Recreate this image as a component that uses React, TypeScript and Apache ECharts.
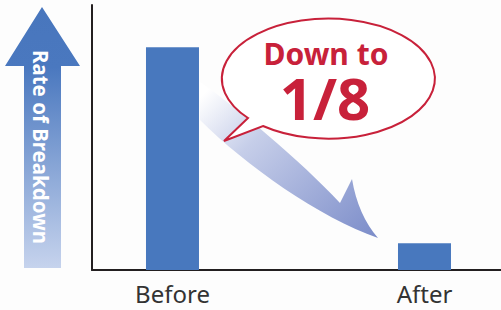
import React, { useEffect, useRef } from "react";
import * as echarts from "echarts";

const categories = ["Before", "After"];
const values = [100, 12];
const calloutLine1 = "Down to";
const calloutLine2 = "1/8";
const yAxisTitle = "Rate of Breakdown";

const BAR_COLOR = "#4878be";
const RED = "#c8213a";
const AXIS_COLOR = "#231f20";

const CURVE_ARROW_D =
  "M200 82 C235 106 300 160 340 203 L352 179 Q358 215 378 238 C320 218 245 165 200 120 Z";
const BUBBLE_D =
  "M248 118 L224 141 L263 126 A106.5 60 0 1 0 248 118 Z";

let registered = false;
function registerShapes() {
  if (registered) return;
  echarts.graphic.registerShape("curveArrow", echarts.graphic.extendPath(CURVE_ARROW_D, {}));
  echarts.graphic.registerShape("bubble", echarts.graphic.extendPath(BUBBLE_D, {}));
  registered = true;
}

export default function App() {
  const ref = useRef<HTMLDivElement>(null);
  useEffect(() => {
    document.body.style.margin = "0";
    registerShapes();
    const chart = echarts.init(ref.current!, null, { renderer: "svg" });
    const option: any = {
      animation: false,
      backgroundColor: "#fdfdfd",
      grid: { left: 92, right: 0, top: 5, bottom: 40 },
      xAxis: {
        type: "value",
        min: -0.3194,
        max: 1.3036,
        splitLine: { show: false },
        axisTick: { show: false },
        axisLine: { show: true, onZero: false, lineStyle: { color: AXIS_COLOR, width: 2 } },
        axisLabel: {
          customValues: [0, 1],
          formatter: (v: number) => categories[Math.round(v)] ?? "",
          color: "#333333",
          fontSize: 24,
          fontFamily: "Noto Sans",
          margin: 11,
        },
      },
      yAxis: {
        type: "value",
        min: 0,
        max: 119,
        splitLine: { show: false },
        axisTick: { show: false },
        axisLabel: { show: false },
        axisLine: { show: true, onZero: false, lineStyle: { color: AXIS_COLOR, width: 2 } },
      },
      series: [
        {
          type: "bar",
          barWidth: 53,
          itemStyle: { color: BAR_COLOR },
          data: values.map((v, i) => [i, v]),
        },
      ],
      graphic: [
        {
          type: "polygon",
          z: 10,
          shape: {
            points: [
              [42, 7],
              [80, 66],
              [61, 66],
              [61, 268],
              [24, 268],
              [24, 66],
              [5, 66],
            ],
          },
          style: {
            fill: {
              type: "linear",
              x: 0,
              y: 0,
              x2: 0,
              y2: 1,
              colorStops: [
                { offset: 0, color: "#4876bd" },
                { offset: 0.23, color: "#4a78bf" },
                { offset: 1, color: "#c6d3ed" },
              ],
            },
          },
        },
        {
          type: "text",
          z: 11,
          x: 41,
          y: 147,
          rotation: -Math.PI / 2,
          style: {
            text: yAxisTitle,
            fill: "#ffffff",
            fontSize: 20.5,
            fontWeight: "bold",
            fontFamily: "Noto Sans",
            textAlign: "center",
            align: "center",
            textVerticalAlign: "middle",
            verticalAlign: "middle",
          },
        },
        {
          type: "curveArrow",
          z: 10,
          x: 0,
          y: 0,
          style: {
            fill: {
              type: "linear",
              x: 0,
              y: 0.1,
              x2: 1,
              y2: 1,
              colorStops: [
                { offset: 0, color: "#ffffff" },
                { offset: 0.3, color: "#c6cee9" },
                { offset: 1, color: "#7b8cc9" },
              ],
            },
          },
        },
        {
          type: "bubble",
          z: 12,
          x: 0,
          y: 0,
          style: { fill: "#ffffff", stroke: RED, lineWidth: 2 },
        },
        {
          type: "text",
          z: 13,
          x: 326,
          y: 53,
          style: {
            text: calloutLine1,
            fill: RED,
            fontSize: 30,
            lineHeight: 26,
            fontWeight: "bold",
            fontFamily: "Noto Sans",
            textAlign: "center",
            align: "center",
            textVerticalAlign: "middle",
            verticalAlign: "middle",
          },
        },
        {
          type: "text",
          z: 13,
          x: 325,
          y: 97,
          style: {
            text: calloutLine2,
            fill: RED,
            fontSize: 58,
            lineHeight: 48,
            fontWeight: "bold",
            fontFamily: "Noto Sans",
            textAlign: "center",
            align: "center",
            textVerticalAlign: "middle",
            verticalAlign: "middle",
          },
        },
      ],
    };
    chart.setOption(option);
    return () => chart.dispose();
  }, []);
  return <div ref={ref} style={{ width: 501, height: 310 }} />;
}
